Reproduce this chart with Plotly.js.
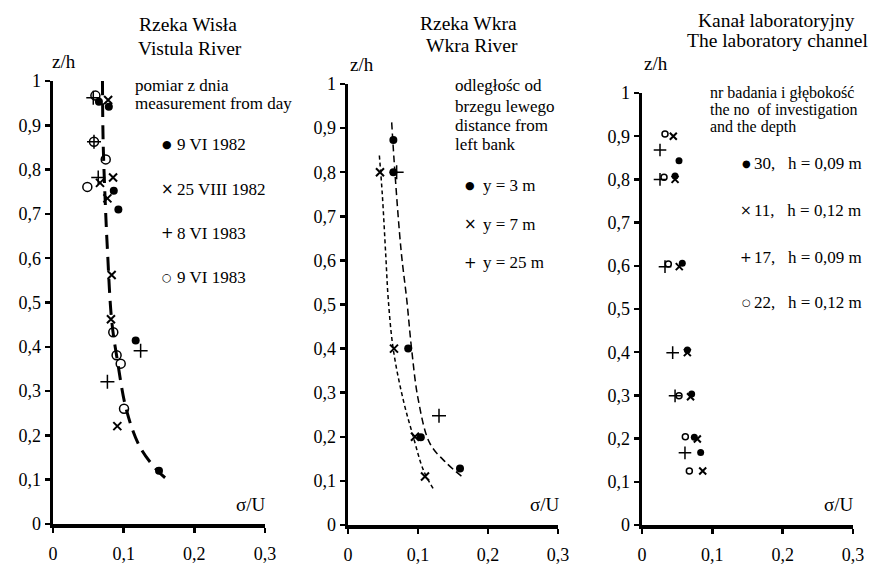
<!DOCTYPE html>
<html>
<head>
<meta charset="utf-8">
<script src="https://cdn.plot.ly/plotly-3.0.1.min.js"></script>
<style>html,body{margin:0;padding:0;background:#fff;}#chart{width:878px;height:565px;}</style>
</head>
<body>
<div id="chart"></div>
<script>
// ---------- Data: Rzeka Wisła / Vistula River ----------
const wislaCurveX = [0.070, 0.071, 0.075, 0.077, 0.083, 0.091, 0.104, 0.123, 0.148, 0.162];
const wislaCurveY = [1.000, 0.860, 0.686, 0.620, 0.460, 0.370, 0.257, 0.174, 0.120, 0.100];
const w1982a_x = [0.065, 0.079, 0.086, 0.0925, 0.117, 0.150];
const w1982a_y = [0.953, 0.942, 0.752, 0.710, 0.414, 0.120];
const w1982b_x = [0.078, 0.085, 0.0665, 0.077, 0.083, 0.082, 0.091];
const w1982b_y = [0.957, 0.782, 0.770, 0.735, 0.562, 0.462, 0.221];
const w1983a_x = [0.057, 0.058, 0.064, 0.124, 0.077];
const w1983a_y = [0.962, 0.863, 0.782, 0.391, 0.321];
const w1983b_x = [0.060, 0.058, 0.0746, 0.0486, 0.0853, 0.090, 0.0958, 0.1005];
const w1983b_y = [0.967, 0.863, 0.823, 0.761, 0.433, 0.381, 0.362, 0.260];

// ---------- Data: Rzeka Wkra / Wkra River ----------
const wkraCurve3X = [0.0624, 0.0670, 0.0760, 0.084, 0.091, 0.1005, 0.117, 0.141, 0.162];
const wkraCurve3Y = [0.913, 0.800, 0.620, 0.510, 0.397, 0.283, 0.185, 0.140, 0.111];
const wkraCurve7X = [0.0448, 0.0490, 0.0540, 0.0576, 0.0648, 0.079, 0.0933, 0.1076, 0.123];
const wkraCurve7Y = [0.838, 0.750, 0.610, 0.510, 0.397, 0.283, 0.200, 0.125, 0.079];
const wy3_x = [0.0648, 0.0648, 0.086, 0.104, 0.160];
const wy3_y = [0.873, 0.800, 0.400, 0.199, 0.128];
const wy7_x = [0.0457, 0.0657, 0.0957, 0.110];
const wy7_y = [0.800, 0.400, 0.200, 0.110];
const wy25_x = [0.0695, 0.130];
const wy25_y = [0.800, 0.248];

// ---------- Data: Kanał laboratoryjny / The laboratory channel ----------
const k30_x = [0.0526, 0.047, 0.0573, 0.0645, 0.0706, 0.0744, 0.0834];
const k30_y = [0.843, 0.808, 0.606, 0.405, 0.303, 0.203, 0.168];
const k11_x = [0.0445, 0.047, 0.053, 0.0645, 0.069, 0.0787, 0.0863];
const k11_y = [0.900, 0.800, 0.598, 0.399, 0.297, 0.199, 0.125];
const k17_x = [0.0256, 0.0256, 0.0327, 0.0436, 0.047, 0.0611];
const k17_y = [0.868, 0.800, 0.598, 0.399, 0.299, 0.167];
const k22_x = [0.0327, 0.0313, 0.0374, 0.0526, 0.0616, 0.0673];
const k22_y = [0.905, 0.805, 0.604, 0.299, 0.204, 0.125];

// ---------- Labels ----------
const yTickVals = [0, 0.1, 0.2, 0.3, 0.4, 0.5, 0.6, 0.7, 0.8, 0.9, 1];
const xTickVals = [0, 0.1, 0.2, 0.3];
const legend1 = ['9 VI 1982', '25 VIII 1982', '8 VI 1983', '9 VI 1983'];
const legend2 = ['y = 3 m', 'y = 7 m', 'y = 25 m'];
const legend3 = ['30,\u00a0\u00a0 h = 0,09 m', '11,\u00a0\u00a0 h = 0,12 m', '17,\u00a0\u00a0 h = 0,09 m', '22,\u00a0\u00a0 h = 0,12 m'];

const W = 878, H = 565;
const FONT = '"Liberation Serif", "DejaVu Serif", serif';
const K = 'black';

function mk(kind, size) {
  if (kind === 'dot') return {symbol: 'circle', size: size, color: K};
  if (kind === 'x') return {symbol: 'x-thin-open', size: size, color: K, line: {color: K, width: 2}};
  if (kind === 'plus') return {symbol: 'cross-thin-open', size: size, color: K, line: {color: K, width: 1.5}};
  return {symbol: 'circle-open', size: size, color: K, line: {color: K, width: 1.5}};
}
function pts(x, y, ax, kind, size) {
  return {type: 'scatter', mode: 'markers', x: x, y: y, xaxis: ax[0], yaxis: ax[1],
          marker: mk(kind, size), showlegend: false, cliponaxis: false, hoverinfo: 'skip'};
}
function line(x, y, ax, dash, width) {
  return {type: 'scatter', mode: 'lines', x: x, y: y, xaxis: ax[0], yaxis: ax[1],
          line: {color: K, width: width, dash: dash, shape: 'spline'}, showlegend: false,
          cliponaxis: false, hoverinfo: 'skip'};
}
const A1 = ['x', 'y'], A2 = ['x2', 'y2'], A3 = ['x3', 'y3'];

const data = [
  line(wislaCurveX, wislaCurveY, A1, '14px,8px', 3),
  pts(w1982a_x, w1982a_y, A1, 'dot', 8),
  pts(w1982b_x, w1982b_y, A1, 'x', 8),
  pts(w1983a_x, w1983a_y, A1, 'plus', 10),
  pts(w1983b_x, w1983b_y, A1, 'o', 9),

  line(wkraCurve3X, wkraCurve3Y, A2, '7px,4px', 1.5),
  line(wkraCurve7X, wkraCurve7Y, A2, '4px,3px', 1.5),
  pts(wy3_x, wy3_y, A2, 'dot', 8),
  pts(wy7_x, wy7_y, A2, 'x', 8),
  pts(wy25_x, wy25_y, A2, 'plus', 10),

  pts(k30_x, k30_y, A3, 'dot', 7),
  pts(k11_x, k11_y, A3, 'x', 7),
  pts(k17_x, k17_y, A3, 'plus', 9),
  pts(k22_x, k22_y, A3, 'o', 6)
];

function xax(d0, d1, anchor) {
  return {domain: [d0 / W, d1 / W], anchor: anchor, range: [0, 0.3], tickvals: xTickVals,
          showline: true, linecolor: K, linewidth: 3.5, ticks: 'outside', ticklen: 5, tickwidth: 2.5,
          tickcolor: K, showgrid: false, zeroline: false, ticklabelstandoff: 6,
          tickfont: {family: FONT, size: 18, color: K}, fixedrange: true};
}
function yax(top, bottom, anchor) {
  return {domain: [(H - bottom) / H, (H - top) / H], anchor: anchor, range: [0, 1], tickvals: yTickVals,
          showline: true, linecolor: K, linewidth: 3.5, ticks: 'outside', ticklen: 5, tickwidth: 2.5,
          tickcolor: K, showgrid: false, zeroline: false,
          tickfont: {family: FONT, size: 18, color: K}, fixedrange: true};
}

const ann = [];
function T(text, px, py, size, xanchor, extra) {
  ann.push(Object.assign({text: text, x: px / W, y: 1 - py / H, xref: 'paper', yref: 'paper',
    xanchor: xanchor || 'center', yanchor: 'middle', showarrow: false,
    font: {family: FONT, size: size, color: K}}, extra || {}));
}
// titles
T('Rzeka Wisła', 188, 25, 19.5);
T('Vistula River', 190, 48, 19.5);
T('Rzeka Wkra', 469, 23, 19.5);
T('Wkra River', 472, 46, 19.5);
T('Kanał laboratoryjny', 776, 20, 19.5);
T('The laboratory channel', 777, 40, 19.5);
// axis labels
T('z/h', 64, 61, 19); T('z/h', 362, 64, 19); T('z/h', 656, 63, 19);
T('σ/U', 251, 504, 19); T('σ/U', 545, 505, 19); T('σ/U', 839, 504, 19);
// legend 1
T('pomiar z dnia', 133, 86, 17, 'left');
T('measurement from day', 133, 103, 17, 'left');
const sym = ['●', '×', '+', '○'];
const symSize = [11, 15, 15, 11];
const l1y = [145, 189, 233, 277];
legend1.forEach((s, i) => { T(sym[i], 167, l1y[i], symSize[i], 'center', {font: {family: 'DejaVu Sans', size: symSize[i], color: K}}); T(s, 175, l1y[i], 17, 'left'); });
// legend 2
T('odległośc od', 453, 86, 17, 'left');
T('brzegu lewego', 453, 106, 17, 'left');
T('distance from', 453, 125, 17, 'left');
T('left bank', 453, 144, 17, 'left');
const l2y = [185, 224, 263];
legend2.forEach((s, i) => { T(sym[i], 470, l2y[i], symSize[i], 'center', {font: {family: 'DejaVu Sans', size: symSize[i], color: K}}); T(s, 481, l2y[i], 17, 'left'); });
// legend 3
T('nr badania i głębokość', 708, 93, 16, 'left');
T('the no\u00a0 of investigation', 708, 110, 16, 'left');
T('and the depth', 708, 127, 16, 'left');
const l3y = [163, 210, 257, 302];
legend3.forEach((s, i) => { T(sym[i], 746, l3y[i], symSize[i] - 1, 'center', {font: {family: 'DejaVu Sans', size: symSize[i] - 1, color: K}}); T(s, 752, l3y[i], 17, 'left'); });

const layout = {
  width: W, height: H, margin: {l: 0, r: 0, t: 0, b: 0},
  paper_bgcolor: 'white', plot_bgcolor: 'white', showlegend: false, separators: ',.',
  font: {family: FONT, color: K},
  xaxis: xax(53, 265, 'y'), yaxis: yax(81, 524, 'x'),
  xaxis2: xax(348, 558, 'y2'), yaxis2: yax(84, 525, 'x2'),
  xaxis3: xax(642, 853, 'y3'), yaxis3: yax(93, 525, 'x3'),
  annotations: ann
};
Plotly.newPlot('chart', data, layout, {staticPlot: true, displayModeBar: false});
</script>
</body>
</html>
